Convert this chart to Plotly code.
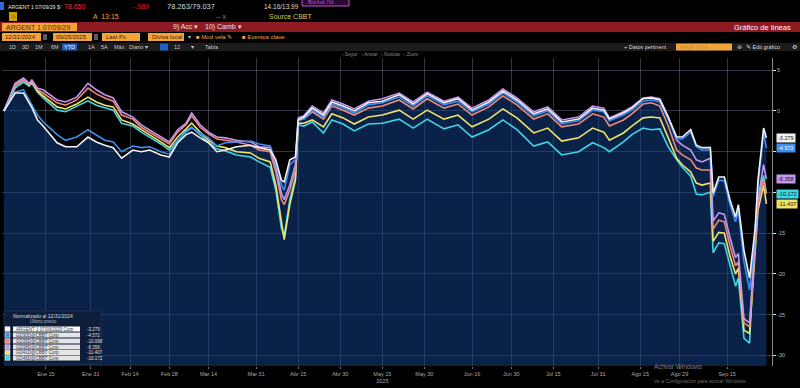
import plotly.graph_objects as go

FONT = "Liberation Sans, Arial, sans-serif"

dates = [
"2024-12-31","2025-01-04","2025-01-07","2025-01-09","2025-01-10","2025-01-12","2025-01-14","2025-01-19","2025-01-22","2025-01-26",
"2025-01-30","2025-02-02","2025-02-05","2025-02-08","2025-02-11","2025-02-15","2025-02-18","2025-02-21","2025-02-25","2025-02-28",
"2025-03-03","2025-03-06","2025-03-08","2025-03-11","2025-03-14","2025-03-17","2025-03-20","2025-03-24","2025-03-29","2025-04-01",
"2025-04-05","2025-04-07","2025-04-09","2025-04-10","2025-04-12","2025-04-14","2025-04-15","2025-04-17",
"2025-04-20","2025-04-24","2025-04-27","2025-05-01","2025-05-05","2025-05-10","2025-05-15","2025-05-21","2025-05-26","2025-05-31",
"2025-06-06","2025-06-11","2025-06-16","2025-06-22","2025-06-27","2025-07-02","2025-07-08","2025-07-13","2025-07-18","2025-07-24",
"2025-07-29","2025-08-02",
"2025-08-04","2025-08-09","2025-08-12","2025-08-16","2025-08-19","2025-08-22","2025-08-25","2025-08-28","2025-08-30","2025-09-02",
"2025-09-04","2025-09-06","2025-09-09","2025-09-10","2025-09-12","2025-09-14","2025-09-16","2025-09-18","2025-09-19","2025-09-21",
"2025-09-23","2025-09-25","2025-09-26","2025-09-28","2025-09-29"]

white_vals = [0, 2.2, 2.2, 1.0, 0.4, -1.1, -1.85, -3.9, -4.4, -4.4,
              -3.2, -3.8, -4.2, -4.5, -5.8, -4.8, -5.0, -4.8, -5.4, -5.65,
              -3.9, -2.9, -2.6, -3.3, -3.9, -5.0, -4.8, -4.4, -4.2, -4.5,
              -4.8, -6.0, -8.5, -8.7, -6.0, -5.65, -1.1, -0.75,
              0.35, -0.5, 1.1, 0.6, 0, 1.0, 1.2, 2.0, 0.85, 2.1,
              1.0, 1.5, 0.1, 1.1, 2.45, 1.35, -0.35, 0.25, -1.35, -1.0,
              0.35, 0.1,
              -1.0, -0.25, 0.35, 1.5, 1.6, 1.35, -0.75, -3.2, -3.2, -2.3,
              -4.2, -4.5, -4.5, -10.1, -8.1, -8.1, -10.9, -13.0, -11.5, -17.1,
              -20.5, -14.4, -8.5, -2.1, -3.279]

blue_vals = [0, 2.3, 2.6, 1.35, 0.7, -0.5, -1.35, -2.9, -3.6, -3.2,
             -2.3, -2.9, -3.6, -3.8, -5.0, -4.3, -4.5, -4.4, -5.0, -5.3,
             -3.6, -2.6, -2.1, -2.7, -3.3, -4.3, -3.9, -3.8, -3.7, -4.05,
             -4.3, -6.25, -9.1, -9.7, -6.6, -6.0, -1.1, -1.0,
             0.1, -0.75, 0.85, 0.35, -0.25, 0.75, 1.0, 1.7, 0.6, 1.85,
             0.75, 1.2, -0.1, 0.85, 2.2, 1.1, -0.6, 0, -1.6, -1.2,
             0.1, -0.1,
             -1.2, -0.5, 0.1, 1.2, 1.35, 1.1, -1.0, -3.45, -3.45, -2.6,
             -4.4, -4.8, -4.8, -10.5, -8.5, -8.6, -11.5, -13.6, -12.2, -18.5,
             -22.0, -14.85, -9.1, -2.7, -4.572]

salmon_vals = [0, 3.2, 3.8, 3.3, 3.7, 2.6, 2.2, 1.0, 0.7, 1.35,
               2.8, 2.1, 1.6, 1.2, -0.5, -1.0, -2.0, -2.6, -3.45, -4.05,
               -2.6, -1.7, -0.6, -2.0, -2.8, -3.45, -3.6, -3.8, -4.2, -4.8,
               -5.0, -7.5, -10.9, -11.5, -9.7, -7.25, -1.1, -1.0,
               -0.1, -1.0, 0.6, 0.1, -0.5, 0.35, 0.6, 1.35, 0.25, 1.5,
               0.35, 0.85, -0.5, 0.5, 1.85, 0.75, -1.0, -0.35, -1.95, -1.6,
               -0.35, -0.75,
               -1.85, -1.1, -0.35, 0.85, 1.0, 0.6, -1.85, -4.8, -5.4, -6.0,
               -7.0, -7.25, -7.25, -14.5, -13.4, -13.6, -16.5, -19.0, -18.5, -26.0,
               -26.5, -15.6, -11.5, -8.5, -10.068]

purple_vals = [0, 3.4, 4.05, 3.4, 3.8, 2.8, 2.6, 1.35, 1.1, 1.7,
               3.4, 2.6, 2.0, 1.6, -0.1, -0.75, -1.7, -2.3, -3.2, -3.8,
               -2.3, -1.5, -0.25, -1.7, -2.6, -3.2, -3.3, -3.6, -3.8, -4.4,
               -4.5, -6.9, -10.1, -10.9, -9.1, -6.6, -0.85, -0.6,
               0.6, -0.25, 1.35, 0.85, 0.25, 1.2, 1.5, 2.2, 1.1, 2.3,
               1.2, 1.7, 0.35, 1.35, 2.7, 1.6, -0.1, 0.5, -1.1, -0.75,
               0.6, 0.35,
               -0.85, -0.1, 0.5, 1.6, 1.7, 1.5, -0.75, -3.6, -4.2, -4.8,
               -6.0, -6.25, -5.8, -13.5, -12.5, -12.7, -15.5, -18.0, -17.5, -25.5,
               -26.0, -15.2, -10.9, -6.6, -8.358]

yellow_vals = [0, 3.1, 3.8, 3.2, 3.55, 2.45, 1.85, 0.5, 0.25, 0.85,
               1.7, 1.1, 0.7, 0.5, -1.1, -1.6, -2.3, -2.9, -3.8, -4.5,
               -3.2, -2.2, -1.5, -2.6, -3.6, -4.3, -4.5, -5.0, -5.15, -5.8,
               -6.25, -9.1, -14.0, -15.8, -11.5, -8.5, -1.5, -1.5,
               -1.1, -1.95, -0.35, -0.85, -1.6, -0.75, -0.5, 0.1, -1.0, 0.1,
               -1.0, -0.5, -1.95, -1.0, 0.25, -0.85, -2.7, -2.1, -3.7, -3.3,
               -2.1, -2.6,
               -3.6, -2.7, -1.85, -0.85, -0.75, -0.85, -3.3, -5.8, -6.6, -7.5,
               -8.85, -9.1, -8.85, -16.0, -14.9, -15.0, -17.8, -20.0, -19.3, -26.9,
               -27.3, -16.5, -12.2, -9.1, -11.407]

cyan_vals = [0, 2.8, 3.55, 3.05, 3.4, 2.3, 1.6, 0.1, -0.1, 0.6,
             1.25, 0.7, 0.4, 0.1, -1.5, -1.85, -2.6, -3.2, -4.05, -4.8,
             -3.6, -2.45, -2.0, -2.9, -3.9, -4.65, -4.9, -5.4, -5.65, -6.25,
             -6.9, -9.7, -14.4, -15.35, -10.9, -8.2, -1.7, -1.85,
             -1.35, -2.7, -1.1, -1.6, -2.45, -1.6, -1.5, -1.0, -2.1, -1.0,
             -2.2, -1.7, -3.2, -2.3, -1.1, -2.3, -4.3, -3.8, -5.4, -5.0,
             -3.9, -4.5,
             -5.0, -3.8, -2.9, -2.1, -2.3, -2.2, -4.4, -6.0, -6.9, -8.0,
             -10.2, -10.3, -9.95, -17.4, -16.2, -16.3, -19.0, -21.5, -20.5, -27.9,
             -28.5, -14.4, -10.9, -7.9, -10.172]

series_names = ["ARGENT 1 07/09/2029 Corp", "GD30D@CBBT Corp", "GD35D@CBBT Corp",
                "GD38D@CBBT Corp", "GD41D@CBBT Corp", "GD46D@CBBT Corp"]
series_colors = ["#f2f2f2", "#3d8ef0", "#f08a78", "#c597f2", "#f2e36a", "#3fd6e6"]
last_labels = ["-3.279", "-4.572", "-10.068", "-8.358", "-11.407", "-10.172"]
series_vals = [white_vals, blue_vals, salmon_vals, purple_vals, yellow_vals, cyan_vals]

tick_dates = ["2025-01-15", "2025-01-31", "2025-02-14", "2025-02-28", "2025-03-14", "2025-03-31",
              "2025-04-15", "2025-04-30", "2025-05-15", "2025-05-30", "2025-06-16", "2025-06-30",
              "2025-07-15", "2025-07-31", "2025-08-15", "2025-08-29", "2025-09-15"]
tick_text = ["Ene 15", "Ene 31", "Feb 14", "Feb 28", "Mar 14", "Mar 31", "Abr 15", "Abr 30",
             "May 15<br>2025", "May 30", "Jun 16", "Jun 30", "Jul 15", "Jul 31", "Ago 15", "Ago 29", "Sep 15"]
y_ticks = [5, 0, -5, -10, -15, -20, -25, -30]
y_tick_text = ["5", "0", "", "", "-15", "-20", "-25", "-30"]

YMIN, YMAX = -31.3, 6.5
W, H = 800, 388
ML, MR, MT, MB = 2, 28, 58, 22


def PX(x):
    return (x - ML) / (W - ML - MR)


def PY(y):
    return (H - MB - y) / (H - MT - MB)


fig = go.Figure()

# baseline for area fill of main series
fig.add_trace(go.Scatter(x=dates, y=[YMIN] * len(dates), mode="lines",
                         line=dict(width=0), hoverinfo="skip", showlegend=False))
fig.add_trace(go.Scatter(x=dates, y=white_vals, mode="lines", line=dict(width=0),
                         fill="tonexty", fillcolor="rgba(22,66,138,0.52)",
                         hoverinfo="skip", showlegend=False))

draw_order = [5, 4, 2, 3, 1, 0]
for i in draw_order:
    fig.add_trace(go.Scatter(x=dates, y=series_vals[i], mode="lines",
                             line=dict(color=series_colors[i], width=1.6),
                             name=series_names[i], showlegend=False))

shapes = []
ann = []


def rect(x0, y0, x1, y1, fill, line=None, lw=0):
    shapes.append(dict(type="rect", xref="paper", yref="paper",
                       x0=PX(x0), x1=PX(x1), y0=PY(y1), y1=PY(y0),
                       fillcolor=fill, line=dict(color=line or fill, width=lw), layer="above"))


def txt(x, y, s, color, size=7, anchor="left"):
    ann.append(dict(x=PX(x), y=PY(y), xref="paper", yref="paper", text=s, showarrow=False,
                    xanchor=anchor, yanchor="middle",
                    font=dict(color=color, size=size, family=FONT)))


ORANGE = "#f2a43a"

# ---- header ----
rect(0, 2, 4, 10, "#2a6fd0")
txt(6, 6.5, "ARGENT 1 07/09/29 $", "#e6e6e6", 5.2)
txt(56.5, 6.5, "↑", "#2ecc40", 6.5)
txt(62, 6.5, "78.650", "#ff2a3a", 7)
txt(131, 6.5, "-.989", "#d0202f", 7)
txt(165, 6.5, "78.263/79.037", "#d8d8d8", 7.5)
txt(262, 6.5, "14.16/13.99", "#d8d8d8", 6.5)
rect(302, -2, 349, 6, "#2a0a30", "#c050d0", 1)
txt(306, 2, "Bid Ask Yld", "#c050d0", 5)
rect(9, 12, 17, 21, "#c8a000")
txt(10, 16.5, "⌂", "#2a2000", 6)
txt(91, 16.5, "A  13:15", ORANGE, 7)
txt(214, 16.5, "-- x", "#888888", 7)
txt(267, 16.5, "Source CBBT", "#d6c46a", 7)

rect(0, 22, 800, 32, "#8e1a22")
rect(2, 23, 77, 31, ORANGE)
txt(4, 27, "ARGENT 1 07/09/29", "#4a2200", 7)
txt(171, 27, "9) Acc ▾", "#f0e0e0", 7)
txt(203, 27, "10) Camb ▾", "#f0e0e0", 7)
txt(793, 27, "Gráfico de líneas", "#ffffff", 7.5, "right")

rect(2, 33, 41, 41, ORANGE)
txt(3, 37, "12/31/2024", "#4a2200", 6)
rect(43, 34, 47, 40, "#5a5a5a")
rect(53, 33, 92, 41, ORANGE)
txt(54, 37, "09/25/2025", "#4a2200", 6)
rect(94, 34, 98, 40, "#5a5a5a")
rect(102, 33, 140, 41, ORANGE)
txt(104, 37, "Last Px", "#4a2200", 6)
rect(148, 33, 184, 41, ORANGE)
txt(150, 37, "Divisa local", "#4a2200", 6)
txt(186, 37, "▾", "#bbbbbb", 6)
txt(194, 37, "■ Mod vela ✎", ORANGE, 6)
txt(240, 37, "■ Eventos clave", ORANGE, 6)

rect(0, 43, 800, 51, "#1c1c1c")
for xx, s in [(7, "1D"), (20, "3D"), (33, "1M"), (49, "6M"), (86, "1A"), (99, "5A"),
              (112, "Máx"), (127, "Diario ▾"), (172, "12"), (189, "▾"), (203, "Tabla")]:
    txt(xx, 47, s, "#c8c8c8", 5.5)
rect(62, 43.5, 77, 50.5, "#1f5fbf")
txt(69.5, 47, "YTD", "#ffffff", 5.5, "center")
rect(160, 43.5, 168, 50.5, "#1f5fbf")
txt(622, 47, "+ Datos pertinent", "#d8d8d8", 5.5)
rect(676, 43.5, 732, 50.5, ORANGE)
txt(678, 47, "Añadir datos", "#c98a30", 5)
txt(735, 47, "⊕", "#bbbbbb", 5.5)
txt(744, 47, "✎ Edit gráfico", "#d8d8d8", 5.5)
txt(790, 47, "⚙", "#d8d8d8", 6)
txt(340, 55, "▫ Seguir   ▫ Anotar   ▫ Noticias   ▫ Zoom", "#8a8a8a", 4.5)

# ---- legend box ----
rect(4, 311, 101, 364, "rgba(14,30,58,0.95)", "#33445f", 0.5)
txt(43, 316, "Normalizado al 12/31/2024", "#dddddd", 5, "center")
txt(43, 321, "Último precio", "#bbbbbb", 4.5, "center")
row_y = [329, 335, 341, 347, 352.5, 358]
for i in range(6):
    ry = row_y[i]
    rect(5, ry - 2.3, 10, ry + 2.3, series_colors[i], "#ffffff", 0.5)
    rect(13, ry - 2.6, 80, ry + 2.6, "#e6e6e6" if i else "#ffffff")
    txt(14, ry, series_names[i], "#333333", 4.5)
    txt(85, ry, last_labels[i], "#e0e0e0", 4.5)

# ---- right-side last value labels (salmon one is hidden behind cyan in the reference) ----
label_font = ["#111111", "#ffffff", "#111111", "#111111", "#111111", "#111111"]
for i in [5, 4, 3, 1, 0]:
    ann.append(dict(x=PX(776), y=series_vals[i][-1], xref="paper", yref="y",
                    text=last_labels[i], showarrow=False, xanchor="left", yanchor="middle",
                    bgcolor=series_colors[i], borderpad=1,
                    font=dict(color=label_font[i], size=5.5, family=FONT)))

# ---- watermark ----
txt(652, 366.5, "Activar Windows", "#7a7a7a", 6.5)
txt(652, 381, "Ve a Configuración para activar Windows.", "#6a6a6a", 5)

fig.update_layout(
    width=W, height=H, margin=dict(l=ML, r=MR, t=MT, b=MB),
    paper_bgcolor="#000000", plot_bgcolor="#000000",
    shapes=shapes, annotations=ann, showlegend=False,
    font=dict(family=FONT),
    xaxis=dict(range=["2024-12-30 08:00", "2025-10-01"], tickvals=tick_dates, ticktext=tick_text,
               tickfont=dict(color="#a8a8a8", size=5.5), showgrid=True,
               gridcolor="rgba(120,130,150,0.42)", gridwidth=1, zeroline=False,
               ticks="outside", ticklen=2, tickcolor="#777777", showline=False),
    yaxis=dict(range=[YMIN, YMAX], side="right", tickvals=y_ticks,
               ticktext=y_tick_text,
               tickfont=dict(color="#b8b8b8", size=5.5), showgrid=True,
               gridcolor="rgba(120,130,150,0.42)", gridwidth=1, zeroline=False,
               ticks="outside", ticklen=3, tickcolor="#dddddd",
               showline=True, linecolor="#888888", linewidth=1),
)

fig.write_html("out.html")
